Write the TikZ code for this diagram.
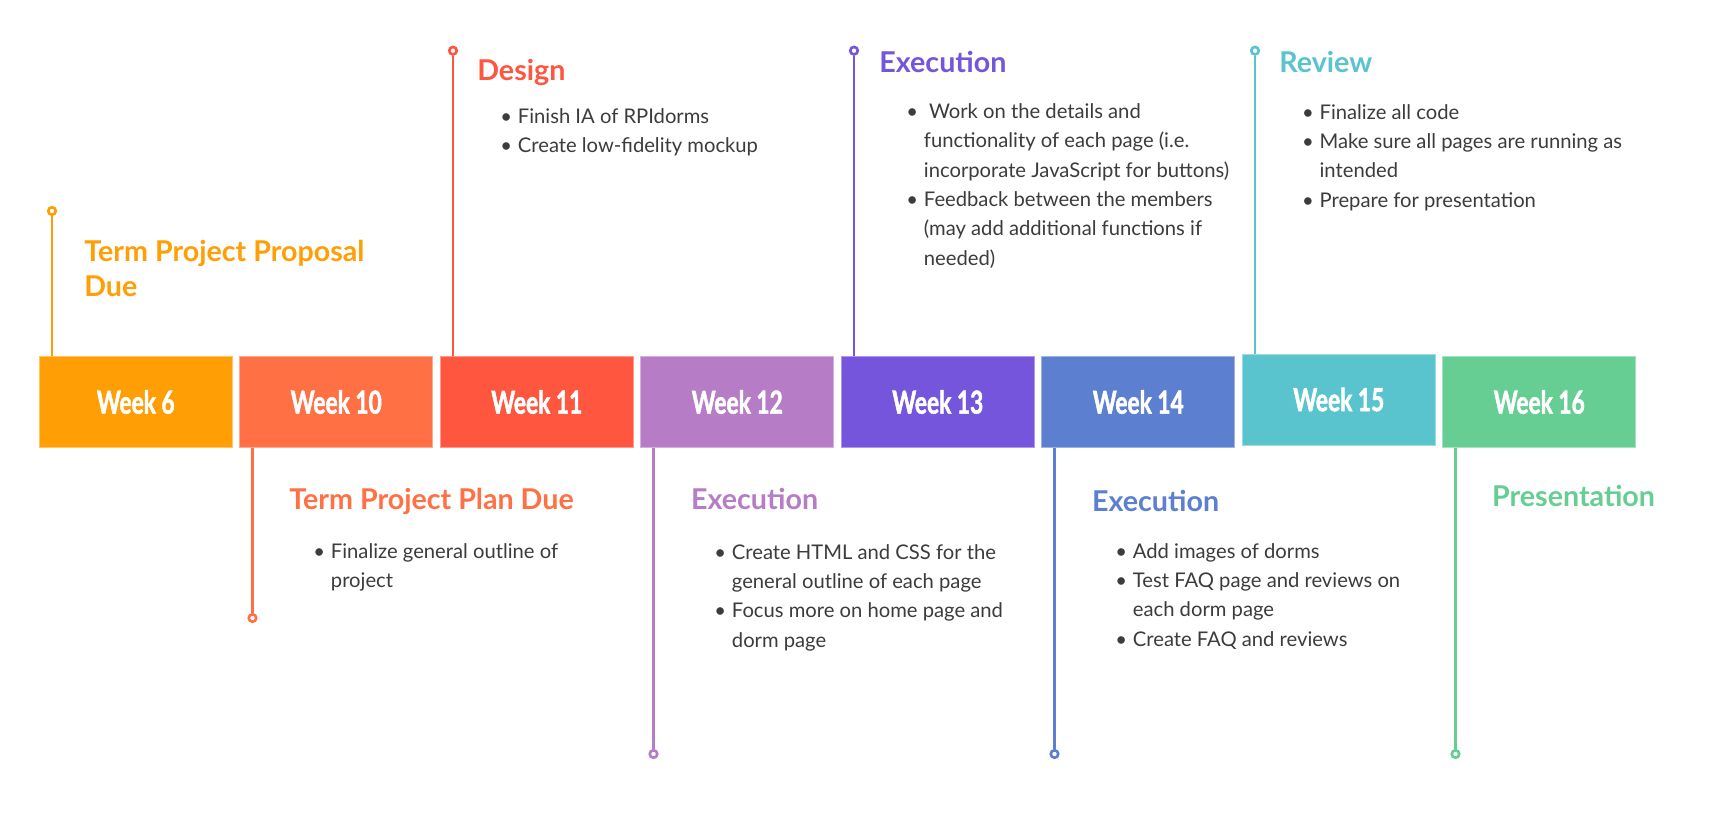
\documentclass[tikz,border=0pt]{standalone}
\usepackage{fontspec}
\setmainfont{Lato}
\newfontfamily\condfont[FakeStretch=0.72,FakeBold=1.6]{Lato}

\definecolor{cSix}{HTML}{FF9F05}
\definecolor{cTen}{HTML}{FF7144}
\definecolor{cEleven}{HTML}{FF5640}
\definecolor{cTwelve}{HTML}{B67CC6}
\definecolor{cThirteen}{HTML}{7455DB}
\definecolor{cFourteen}{HTML}{5C80CF}
\definecolor{cFifteen}{HTML}{5AC4CE}
\definecolor{cSixteen}{HTML}{66CE92}
\definecolor{cText}{HTML}{3C3C3C}

\newcommand{\titlefont}{\fontsize{16.3}{19.9}\selectfont\bfseries}
\newcommand{\notefont}{\fontsize{11.5}{16.7}\selectfont}
\newcommand{\bl}[1]{\begin{tabular}[t]{@{}p{10pt}@{}l@{}}#1\end{tabular}}

\tikzset{
  weekbox/.style={fill=#1, draw=#1!60!white, line width=0.5pt,
    minimum width=38.6mm, minimum height=18.2mm, inner sep=0pt,
    text=white, font={\condfont\bfseries\fontsize{18}{20}\selectfont}},
  stem/.style={draw=#1, line width=1.5pt},
  pindot/.style={circle, draw=#1, line width=1.5pt, fill=white,
    inner sep=0pt, minimum size=1.5mm},
  phase/.style={text=#1, font=\titlefont, anchor=base west, inner sep=0pt},
  notes/.style={text=cText, font=\notefont, anchor=base west, inner sep=0pt}
}

\begin{document}
\begin{tikzpicture}[x=0.2mm, y=0.2mm]
  \path[use as bounding box, fill=white] (0,0) rectangle (1711,832);

  % week boxes
  \node[weekbox=cSix] (w6) at (135.8,430) {Week 6};
  \node[weekbox=cTen] (w10) at (336.3,430) {Week 10};
  \node[weekbox=cEleven] (w11) at (536.8,430) {Week 11};
  \node[weekbox=cTwelve] (w12) at (737.3,430) {Week 12};
  \node[weekbox=cThirteen] (w13) at (937.8,430) {Week 13};
  \node[weekbox=cFourteen] (w14) at (1138.3,430) {Week 14};
  \node[weekbox=cFifteen] (w15) at (1338.8,432.5) {Week 15};
  \node[weekbox=cSixteen] (w16) at (1539.3,430) {Week 16};

  % pins
  \node[pindot=cSix] (p6) at (52,621) {};
  \node[pindot=cTen] (p10) at (252.5,214) {};
  \node[pindot=cEleven] (p11) at (453,781.3) {};
  \node[pindot=cTwelve] (p12) at (653.5,78) {};
  \node[pindot=cThirteen] (p13) at (854,781.3) {};
  \node[pindot=cFourteen] (p14) at (1054.5,78) {};
  \node[pindot=cFifteen] (p15) at (1255,781.3) {};
  \node[pindot=cSixteen] (p16) at (1455.5,78) {};

  \draw[stem=cSix] (w6.north -| p6) -- (p6);
  \draw[stem=cTen] (w10.south -| p10) -- (p10);
  \draw[stem=cEleven] (w11.north -| p11) -- (p11);
  \draw[stem=cTwelve] (w12.south -| p12) -- (p12);
  \draw[stem=cThirteen] (w13.north -| p13) -- (p13);
  \draw[stem=cFourteen] (w14.south -| p14) -- (p14);
  \draw[stem=cFifteen] (w15.north -| p15) -- (p15);
  \draw[stem=cSixteen] (w16.south -| p16) -- (p16);

  % phases above the line
  \node[phase=cSix] (t6) at (84,570)
    {\begin{tabular}[t]{@{}l@{}}Term Project Proposal\\Due\end{tabular}};
  \node[phase=cEleven] (t11) at (477,751.3) {Design};
  \node[notes] (n11) at (500,708.7) {\bl{\textbullet & Finish IA of RPIdorms\\
    \textbullet & Create low-fidelity mockup}};
  \node[phase=cThirteen] (t13) at (879,759.3) {Execution};
  \node[notes] (n13) at (906,713.5) {\bl{\textbullet & \ Work on the details and\\
    & functionality of each page (i.e.\\
    & incorporate JavaScript for buttons)\\
    \textbullet & Feedback between the members\\
    & (may add additional functions if\\
    & needed)}};
  \node[phase=cFifteen] (t15) at (1279,759.3) {Review};
  \node[notes] (n15) at (1301.7,712.7) {\bl{\textbullet & Finalize all code\\
    \textbullet & Make sure all pages are running as\\
    & intended\\
    \textbullet & Prepare for presentation}};

  % phases below the line
  \node[phase=cTen] (t10) at (289,322) {Term Project Plan Due};
  \node[notes] (n10) at (313,273.7) {\bl{\textbullet & Finalize general outline of\\
    & project}};
  \node[phase=cTwelve] (t12) at (690.7,322) {Execution};
  \node[notes] (n12) at (714,272.7) {\bl{\textbullet & Create HTML and CSS for the\\
    & general outline of each page\\
    \textbullet & Focus more on home page and\\
    & dorm page}};
  \node[phase=cFourteen] (t14) at (1091.7,320.5) {Execution};
  \node[notes] (n14) at (1115,273.7) {\bl{\textbullet & Add images of dorms\\
    \textbullet & Test FAQ page and reviews on\\
    & each dorm page\\
    \textbullet & Create FAQ and reviews}};
  \node[phase=cSixteen] (t16) at (1491.7,325.3) {Presentation};
\end{tikzpicture}
\end{document}
